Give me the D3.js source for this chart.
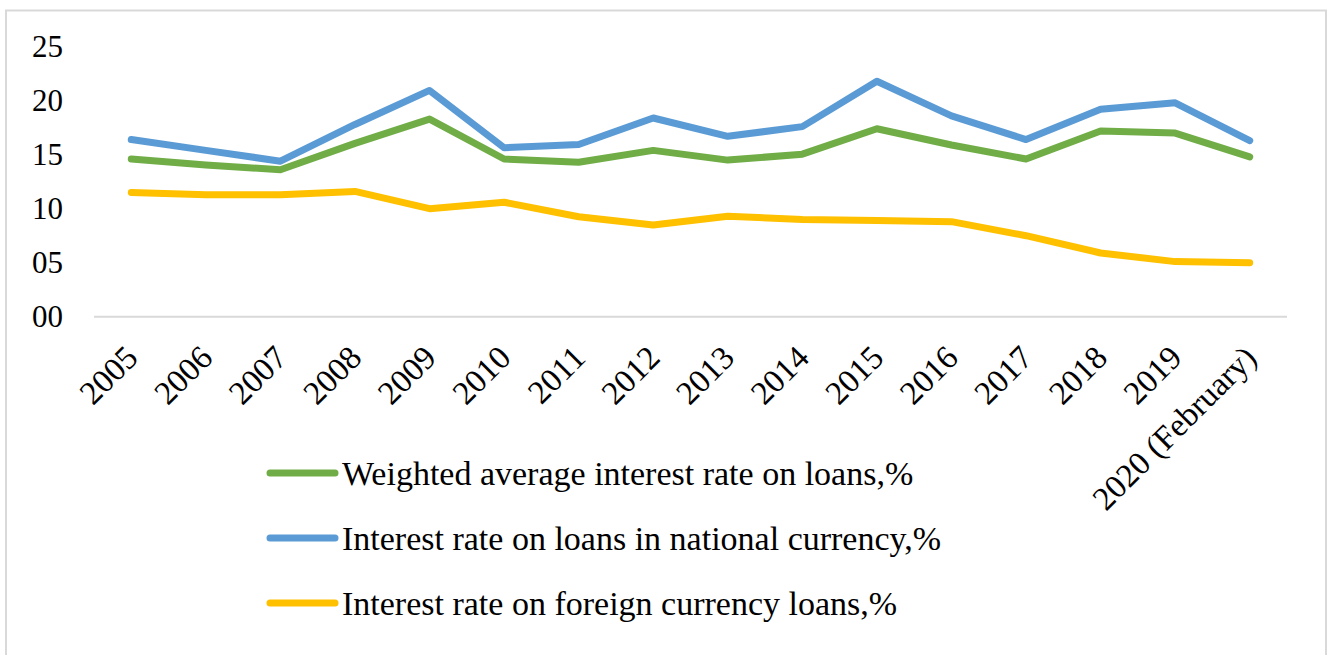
<!DOCTYPE html>
<html>
<head>
<meta charset="utf-8">
<script src="https://cdn.jsdelivr.net/npm/d3@7"></script>
<style>
  html, body { margin: 0; padding: 0; background: #fff; }
  svg { display: block; font-family: "Liberation Serif", "Times New Roman", serif; }
</style>
</head>
<body>
<svg id="chart" width="1330" height="655"></svg>
<script>
const categories = ["2005","2006","2007","2008","2009","2010","2011","2012","2013","2014","2015","2016","2017","2018","2019","2020 (February)"];
const weighted = [14.6, 14.05, 13.6, 16.05, 18.3, 14.6, 14.3, 15.4, 14.5, 15.05, 17.4, 15.9, 14.6, 17.2, 17.0, 14.8];
const national = [16.4, 15.4, 14.4, 17.8, 20.95, 15.65, 15.95, 18.4, 16.7, 17.6, 21.8, 18.6, 16.4, 19.2, 19.8, 16.3];
const foreign  = [11.5, 11.3, 11.3, 11.6, 10.0, 10.6, 9.25, 8.5, 9.3, 9.0, 8.9, 8.8, 7.5, 5.9, 5.1, 5.0];
const yTicks = [0, 5, 10, 15, 20, 25];
const yTickLabels = ["00", "05", "10", "15", "20", "25"];
const seriesNames = ["Weighted average interest rate on loans,%", "Interest rate on loans in national currency,%", "Interest rate on foreign currency loans,%"];
const seriesColors = ["#70AD47", "#5B9BD5", "#FFC000"];
const seriesValues = [weighted, national, foreign];

const svg = d3.select("#chart");

// outer chart border
svg.append("rect")
  .attr("x", 6).attr("y", 10.5)
  .attr("width", 1320).attr("height", 660)
  .attr("fill", "none").attr("stroke", "#d9d9d9").attr("stroke-width", 2);

const x = d3.scalePoint().domain(categories).range([94, 1287]).padding(0.5);
const y = d3.scaleLinear().domain([0, 25]).range([316.7, 46.7]);

// baseline
svg.append("line")
  .attr("x1", 94).attr("x2", 1287)
  .attr("y1", y(0)).attr("y2", y(0))
  .attr("stroke", "#d9d9d9").attr("stroke-width", 2);

// y axis labels
const yAxis = d3.axisLeft(y).tickValues(yTicks).tickFormat((d, i) => yTickLabels[i]).tickSize(0).tickPadding(0);
const yg = svg.append("g").attr("transform", "translate(63,0)").call(yAxis);
yg.select(".domain").remove();
yg.selectAll("text")
  .attr("font-family", "'Liberation Serif', 'Times New Roman', serif")
  .attr("font-size", 31).attr("fill", "#000")
  .attr("dy", "0.33em");

// x axis labels
const xAxis = d3.axisBottom(x).tickSize(0).tickPadding(0);
const xg = svg.append("g").attr("transform", `translate(0,${y(0)})`).call(xAxis);
xg.select(".domain").remove();
xg.selectAll("text")
  .attr("font-family", "'Liberation Serif', 'Times New Roman', serif")
  .attr("font-size", 33).attr("fill", "#000")
  .attr("text-anchor", "end")
  .attr("dy", 0).attr("y", 0)
  .attr("transform", "translate(8,43) rotate(-45)");

// lines
const line = d3.line().x((d, i) => x(categories[i])).y(d => y(d));
seriesValues.forEach((vals, s) => {
  svg.append("path")
    .datum(vals)
    .attr("d", line)
    .attr("fill", "none")
    .attr("stroke", seriesColors[s])
    .attr("stroke-width", 7)
    .attr("stroke-linejoin", "round")
    .attr("stroke-linecap", "round");
});

// legend
const legendY = [473, 538, 603];
seriesNames.forEach((name, s) => {
  const g = svg.append("g").attr("transform", `translate(0,${legendY[s]})`);
  g.append("line")
    .attr("x1", 270).attr("x2", 335).attr("y1", 0).attr("y2", 0)
    .attr("stroke", seriesColors[s]).attr("stroke-width", 7)
    .attr("stroke-linecap", "round");
  g.append("text")
    .attr("x", 342).attr("y", 0).attr("dy", "0.34em")
    .attr("font-size", 34).attr("fill", "#000")
    .text(name);
});
</script>
</body>
</html>
